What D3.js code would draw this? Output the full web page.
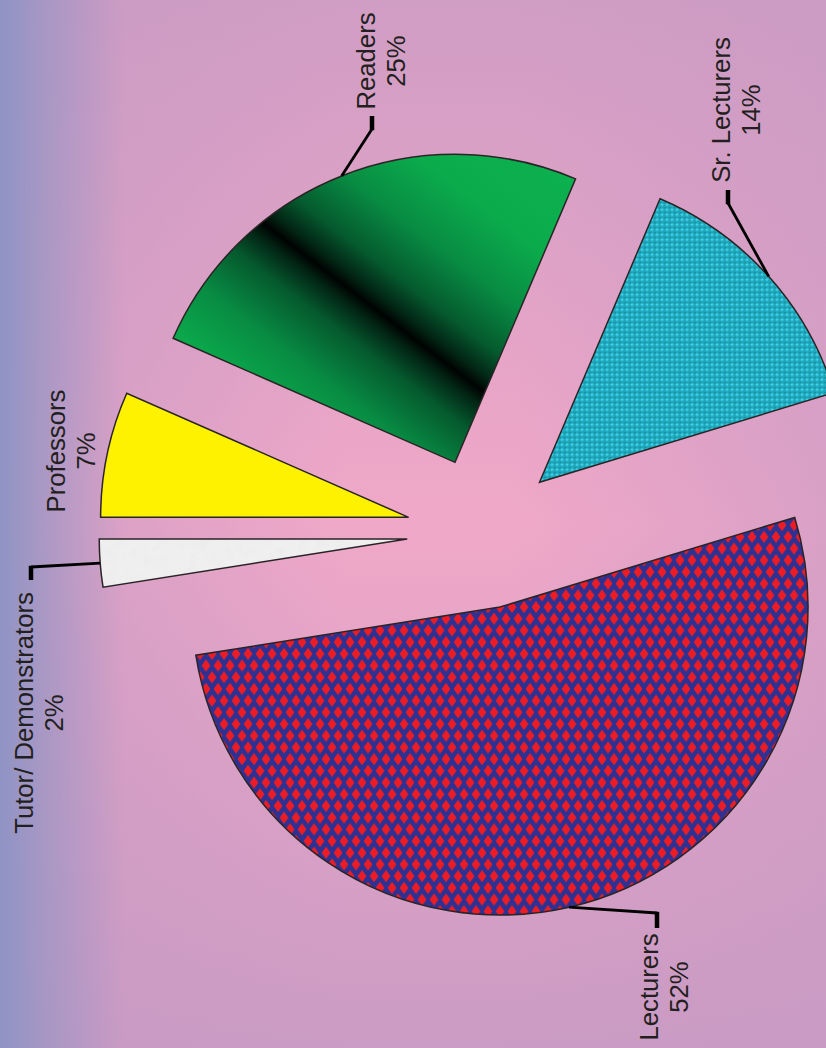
<!DOCTYPE html>
<html><head><meta charset="utf-8">
<script src="https://cdn.jsdelivr.net/npm/d3@7"></script>
<style>html,body{margin:0;padding:0;background:#fff}svg{display:block}</style>
</head><body><div id="chart"></div>
<script>
// ---- data ----
const categories = ["Professors", "Readers", "Sr. Lecturers", "Lecturers", "Tutor/ Demonstrators"];
const values = [6.6, 24.8, 13.9, 52.2, 2.5];
const pctLabels = ["7%", "25%", "14%", "52%", "2%"];

// ---- layout / style ----
const W = 826, H = 1048;
const cx = 483, cy = 533, R = 308, explode = 76;
const fontSize = 25.7, lineGap = 30;
const fillIds = ["url(#profFill)", "url(#readGrad)", "url(#srPat)", "url(#lectPat)", "#efefef"];
const labelLayout = [
  {baseX: 65,  midY: 451},
  {baseX: 375, midY: 61,  elbow: [372, 129], tick: -13},
  {baseX: 730, midY: 110, elbow: [728, 203], tick: -13},
  {baseX: 658, midY: 987, elbow: [657, 913], tick: 15},
  {baseX: 33,  midY: 713, elbow: [31, 567],  tick: 13}
];

const svg = d3.select("#chart").append("svg").attr("width", W).attr("height", H);
const defs = svg.append("defs");

// background gradients
const bgV = defs.append("linearGradient").attr("id", "bgV").attr("x1", 0).attr("y1", 0).attr("x2", 0).attr("y2", 1);
[[0, "#d09dc4"], [0.5, "#f0a8c8"], [1, "#ca9bc4"]].forEach(s => bgV.append("stop").attr("offset", s[0]).attr("stop-color", s[1]));
const bgP = defs.append("linearGradient").attr("id", "bgP");
[[0, 0.75], [0.42, 0], [0.62, 0], [1, 0.55]].forEach(s => bgP.append("stop").attr("offset", s[0]).attr("stop-color", "#c89ac4").attr("stop-opacity", s[1]));
const bgB = defs.append("linearGradient").attr("id", "bgB");
[[0, 1], [0.06, 0.55], [0.15, 0]].forEach(s => bgB.append("stop").attr("offset", s[0]).attr("stop-color", "#8f94c4").attr("stop-opacity", s[1]));

// professors fill (flat yellow)
const pf = defs.append("linearGradient").attr("id", "profFill");
pf.append("stop").attr("offset", 0).attr("stop-color", "#fff200");
pf.append("stop").attr("offset", 1).attr("stop-color", "#fff200");

// readers diagonal gradient with dark band
const rg = defs.append("linearGradient").attr("id", "readGrad")
  .attr("x1", 1).attr("y1", 0).attr("x2", 0).attr("y2", 1);
[[0, "#0db24f"], [0.2, "#0bab4c"], [0.32, "#088c43"], [0.42, "#055a2e"], [0.475, "#022414"], [0.5, "#000302"],
 [0.525, "#022414"], [0.58, "#055a2e"], [0.68, "#088c43"], [0.8, "#0bab4c"], [1, "#0db24f"]]
  .forEach(s => rg.append("stop").attr("offset", s[0]).attr("stop-color", s[1]));

// sr lecturers fine teal pattern
const sp = defs.append("pattern").attr("id", "srPat").attr("patternUnits", "userSpaceOnUse")
  .attr("width", 5).attr("height", 5);
sp.append("rect").attr("width", 5).attr("height", 5).attr("fill", "#1fa6ba");
sp.append("rect").attr("x", 2).attr("y", 1).attr("width", 1).attr("height", 3).attr("fill", "#40d6ee");
sp.append("rect").attr("x", 1).attr("y", 2).attr("width", 3).attr("height", 1).attr("fill", "#40d6ee");
sp.append("rect").attr("x", 0).attr("y", 0).attr("width", 1).attr("height", 1).attr("fill", "#15717e");

// lecturers: red diamonds in an offset lattice on blue
const lp = defs.append("pattern").attr("id", "lectPat").attr("patternUnits", "userSpaceOnUse")
  .attr("width", 12).attr("height", 23.4);
lp.append("rect").attr("width", 12).attr("height", 23.4).attr("fill", "#2e3192");
const dia = (x, y) => `M${x},${y - 6.0}L${x + 4.4},${y}L${x},${y + 6.0}L${x - 4.4},${y}Z`;
[[6, 11.7], [0, 0], [12, 0], [0, 23.4], [12, 23.4]].forEach(p =>
  lp.append("path").attr("d", dia(p[0], p[1])).attr("fill", "#ed1c24"));

// mottled texture for tutor slice
const mf = defs.append("filter").attr("id", "mottle").attr("x", 0).attr("y", 0).attr("width", 1).attr("height", 1);
mf.append("feTurbulence").attr("type", "fractalNoise").attr("baseFrequency", 0.11).attr("numOctaves", 2).attr("seed", 4).attr("result", "n");
mf.append("feColorMatrix").attr("in", "n").attr("type", "matrix")
  .attr("values", "0 0 0 0 0.82  0 0 0 0 0.82  0 0 0 0 0.82  1.6 0 0 0 -0.75").attr("result", "c");
mf.append("feComposite").attr("in", "c").attr("in2", "SourceGraphic").attr("operator", "in");

// background
svg.append("rect").attr("width", W).attr("height", H).attr("fill", "url(#bgV)");
svg.append("rect").attr("width", W).attr("height", H).attr("fill", "url(#bgP)");
svg.append("rect").attr("width", W).attr("height", H).attr("fill", "url(#bgB)");

// pie
const pie = d3.pie().sort(null).value(d => d)
  .startAngle(-Math.PI / 2).endAngle(3 * Math.PI / 2);
const arcs = pie(values);
const arcGen = d3.arc().innerRadius(0).outerRadius(R);

function offsetOf(a) {
  const m = (a.startAngle + a.endAngle) / 2;
  return [cx + explode * Math.sin(m), cy - explode * Math.cos(m)];
}
function arcMid(a) {
  const m = (a.startAngle + a.endAngle) / 2;
  const o = offsetOf(a);
  return [o[0] + R * Math.sin(m), o[1] - R * Math.cos(m)];
}

const slices = svg.append("g").selectAll("g.slice").data(arcs).join("g")
  .attr("class", "slice")
  .attr("transform", d => `translate(${offsetOf(d)})`);
slices.append("path").attr("d", arcGen)
  .attr("fill", (d, i) => fillIds[i]);
slices.filter((d, i) => i === 4).append("path").attr("d", arcGen)
  .attr("fill", "#fff").attr("filter", "url(#mottle)");
slices.append("path").attr("d", arcGen)
  .attr("fill", "none").attr("stroke", "#2a2426").attr("stroke-width", 1.5);

// leader lines
const leaders = svg.append("g");
arcs.forEach((a, i) => {
  const L = labelLayout[i];
  if (!L.elbow) return;
  const p = arcMid(a);
  leaders.append("path")
    .attr("d", `M${p[0]},${p[1]}L${L.elbow[0]},${L.elbow[1]}`)
    .attr("stroke", "#000").attr("stroke-width", 2.8).attr("fill", "none");
  leaders.append("line")
    .attr("x1", L.elbow[0]).attr("y1", L.elbow[1] - Math.sign(L.tick) * 1.2)
    .attr("x2", L.elbow[0]).attr("y2", L.elbow[1] + L.tick)
    .attr("stroke", "#000").attr("stroke-width", 4.5);
});

// labels (rotated)
const labels = svg.append("g").selectAll("g.lbl").data(arcs).join("g")
  .attr("class", "lbl")
  .attr("transform", (d, i) => `translate(${labelLayout[i].baseX},${labelLayout[i].midY}) rotate(-90)`);
const txt = labels.append("text")
  .attr("text-anchor", "middle")
  .attr("font-family", "'Liberation Sans', Arial, sans-serif")
  .attr("font-size", fontSize)
  .attr("fill", "#231f20");
txt.append("tspan").attr("x", 0).attr("y", 0).text((d, i) => categories[i]);
txt.append("tspan").attr("x", 0).attr("y", lineGap).text((d, i) => pctLabels[i]);
</script>
</body></html>
